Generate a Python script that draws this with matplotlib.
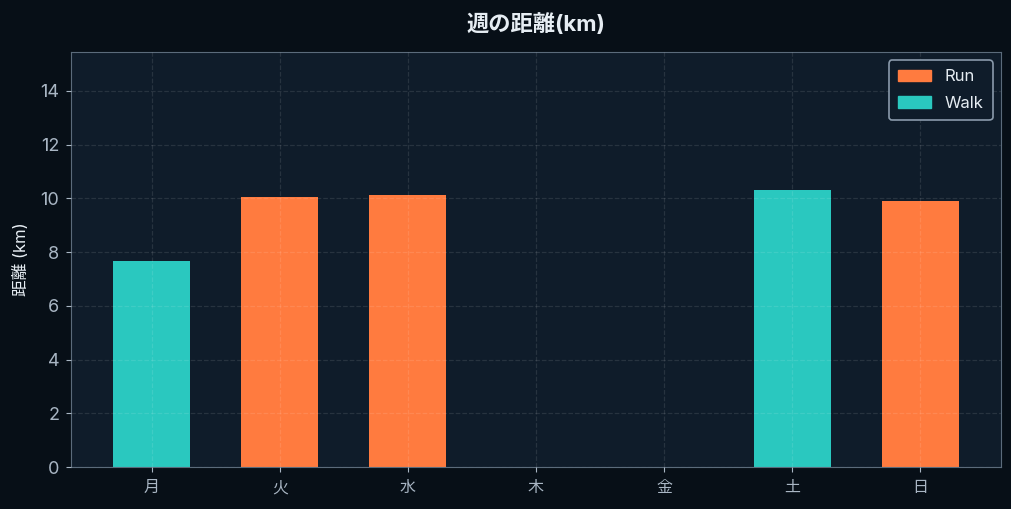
import matplotlib
matplotlib.use("Agg")
import matplotlib.pyplot as plt
from matplotlib.patches import Patch

plt.rcParams['font.family'] = ['Inter', 'Noto Sans CJK JP', 'DejaVu Sans']

days = ["月", "火", "水", "木", "金", "土", "日"]
distance = [7.65, 10.04, 10.11, 0, 0, 10.30, 9.89]
activity = ["Walk", "Run", "Run", "Run", "Run", "Walk", "Run"]
series_names = ["Run", "Walk"]
colors = {"Run": "#ff7b3f", "Walk": "#2ac8bf"}

fig_bg = "#070f17"
ax_bg = "#0f1c2a"
text_c = "#e6edf3"
tick_c = "#a9b6c4"
spine_c = "#5b6b7b"

fig = plt.figure(figsize=(10.12, 5.09), dpi=100, facecolor=fig_bg)
ax = fig.add_axes([0.0702, 0.0825, 0.9188, 0.8155])
ax.set_facecolor(ax_bg)

x = list(range(len(days)))
ax.bar(x, distance, width=0.6, color=[colors[a] for a in activity], zorder=2)
ax.set_xticks(x)
ax.set_xticklabels(days)
ax.set_ylim(0, max(distance) * 1.5)

ax.grid(True, color="#ffffff", alpha=0.1, linestyle="--", linewidth=0.9, zorder=3)
ax.set_axisbelow(False)

for s in ["top", "right", "left", "bottom"]:
    ax.spines[s].set_color(spine_c)
ax.tick_params(colors=tick_c)
ax.tick_params(axis="y", labelsize=13, pad=5)
ax.tick_params(axis="x", labelsize=11.5, pad=6)
ax.set_ylabel("距離 (km)", color=text_c, fontsize=12, labelpad=8)
ax.set_title("週の距離(km)", color=text_c, fontsize=16, fontweight="bold", pad=15)

handles = [Patch(color=colors[n], label=n) for n in series_names]
leg = ax.legend(handles=handles, loc="upper right", facecolor=ax_bg, edgecolor="#8a9aab",
                fontsize=12, labelcolor=text_c, framealpha=1, labelspacing=0.7, borderpad=0.55)
leg.get_frame().set_linewidth(1.2)

fig.savefig("out.png", dpi=100, facecolor=fig_bg)
